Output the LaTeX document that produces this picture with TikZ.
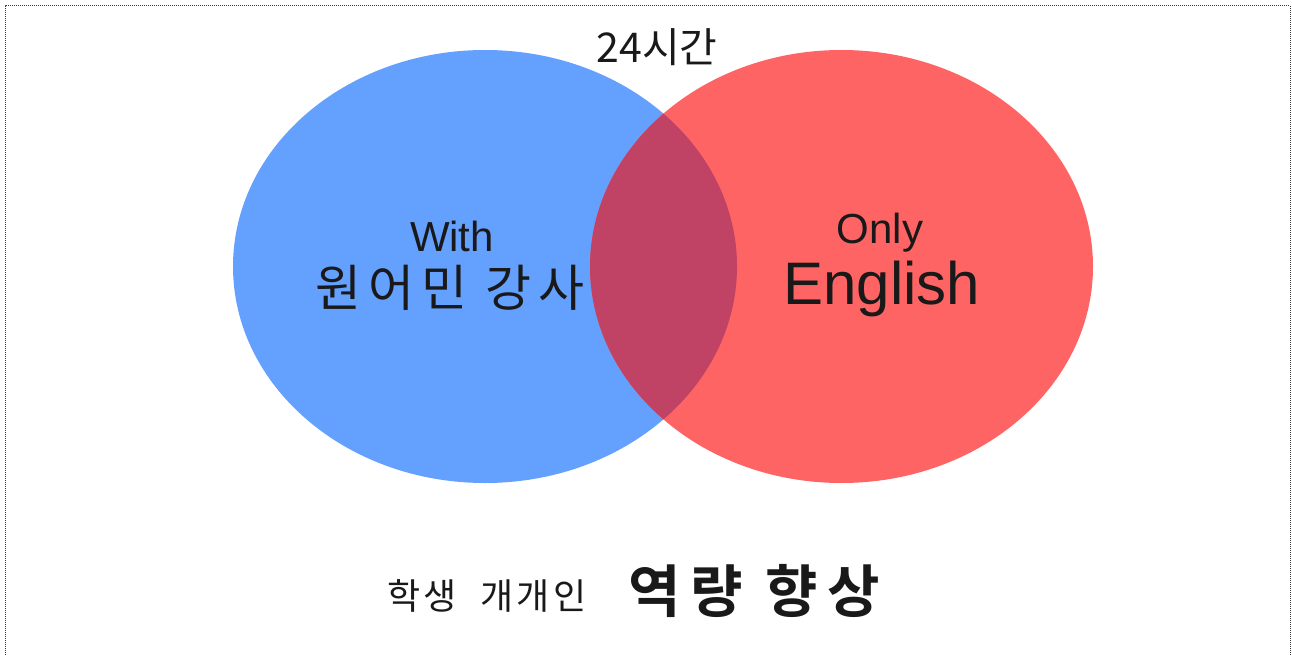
\documentclass[tikz,border=0pt]{standalone}
\usepackage{fontspec}
\newfontfamily\kor{Noto Sans CJK KR}
\newfontfamily\korsp[LetterSpace=14]{Noto Sans CJK KR}
\newfontfamily\korspb[LetterSpace=10]{Noto Sans CJK KR}
\newfontfamily\korbold[LetterSpace=17]{Noto Sans CJK KR Bold}
\newfontfamily\lat{Liberation Sans}
\definecolor{vblue}{RGB}{100,160,254}
\definecolor{vred}{RGB}{255,100,100}
\definecolor{vmix}{RGB}{192,66,100}
\tikzset{
  lbl/.style={inner sep=0pt, text=black!90},
}
\begin{document}
\begin{tikzpicture}[x=1pt,y=-1pt]
\useasboundingbox (0,0) rectangle (1292,655);
\begin{scope}
\clip (0,0) rectangle (1292,655);
\draw[densely dotted, line width=1pt, black!80] (5,665) -- (5,6) -- (1290,6) -- (1290,665);
\end{scope}
% ellipses
\path[fill=vblue] (485,266.5) ellipse [x radius=252, y radius=216.5];
\path[fill=vred] (841.5,266.5) ellipse [x radius=251.5, y radius=216.5];
\begin{scope}
\clip (485,266.5) ellipse [x radius=252, y radius=216.5];
\path[fill=vmix] (841.5,266.5) ellipse [x radius=251.5, y radius=216.5];
\end{scope}
% labels
\node[lbl] (top) at (657,47) {\kor\fontsize{41}{46}\selectfont 24시간};
\node[lbl] (with) at (452,236) {\lat\fontsize{42}{46}\selectfont With};
\node[lbl] (nat) at (450,288) {\korsp\fontsize{50}{56}\selectfont 원어민 강사};
\node[lbl] (only) at (880,233) {\lat\fontsize{42}{46}\selectfont Only};
\node[lbl] (eng) at (882,289) {\lat\fontsize{60}{64}\selectfont English};
\node[lbl] (stu) at (487,596) {\korspb\fontsize{36}{40}\selectfont 학생\ \ 개개인};
\node[lbl] (cap) at (754,591) {\korbold\fontsize{57}{62}\selectfont 역량 향상};
\end{tikzpicture}
\end{document}
